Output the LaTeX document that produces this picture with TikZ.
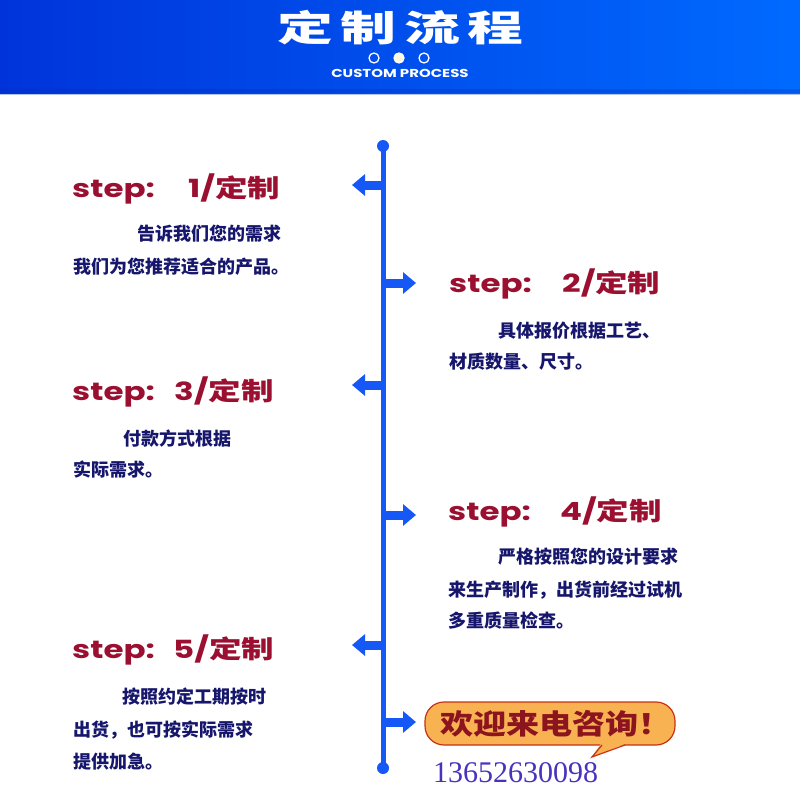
\documentclass[tikz,border=0pt]{standalone}
\usepackage{fontspec}
\newfontfamily\cjk{Noto Sans CJK SC}
\newfontfamily\pop{Poppins}
\newfontfamily\libserif{Liberation Serif}
\usetikzlibrary{arrows.meta}
\definecolor{hdrL}{RGB}{0,52,218}
\definecolor{hdrR}{RGB}{0,106,255}
\definecolor{tl}{RGB}{22,88,245}
\definecolor{crim}{RGB}{155,16,48}
\definecolor{navy}{RGB}{22,22,108}
\definecolor{bubfill}{RGB}{248,178,82}
\definecolor{bubline}{RGB}{200,50,20}
\definecolor{bubtext}{RGB}{140,20,30}
\definecolor{phone}{RGB}{72,50,190}
\definecolor{hdrline}{RGB}{175,195,240}
\definecolor{ringfill}{RGB}{255,250,222}
\tikzset{
  steplbl/.style={anchor=base west, inner sep=0pt, text=crim, font=\pop\bfseries\fontsize{25}{30}\selectfont},
  bodytxt/.style={anchor=west, inner sep=0pt, text=navy, font=\cjk\bfseries\fontsize{18}{20}\selectfont},
  titlechar/.style={inner sep=0pt, text=white, font=\cjk\bfseries\fontsize{36}{40}\selectfont},
  arr/.style={line width=9pt, draw=tl, -{Triangle[width=21pt,length=13pt]}},
  dotc/.style={circle, fill=tl, inner sep=0pt, minimum size=12pt},
  ring/.style={circle, draw=white, line width=1.3pt, inner sep=0pt, minimum size=10pt}
}
\newcommand{\sx}[1]{\scalebox{1.3}[1]{#1}}
\begin{document}
\begin{tikzpicture}[x=1pt,y=-1pt]
\useasboundingbox (0,0) rectangle (800,800);
\fill[white] (0,0) rectangle (800,800);
% header
\shade[left color=hdrL, right color=hdrR] (0,0) rectangle (800,93);
\fill[hdrL!80!black, opacity=0.25] (0,89) rectangle (800,93);
\draw[hdrline, line width=1.5pt] (0,94.5) -- (800,94.5);
\node[titlechar] (h1) at (305,28) {\scalebox{1.55}[1]{定}};
\node[titlechar] (h2) at (368,28) {\scalebox{1.55}[1]{制}};
\node[titlechar] (h3) at (432,28) {\scalebox{1.55}[1]{流}};
\node[titlechar] (h4) at (495,28) {\scalebox{1.55}[1]{程}};
\node[ring] (c1) at (374,58) {};
\node[ring, fill=ringfill] (c2) at (399,58) {};
\node[ring] (c3) at (424,58) {};
\node[inner sep=0pt, text=white, font=\pop\bfseries\fontsize{11.5}{13}\selectfont] (sub) at (400,73) {\scalebox{1.3}[1]{CUSTOM PROCESS}};
% timeline
\node[dotc] (tlTop) at (383,146) {};
\node[dotc] (tlBot) at (383,768) {};
\draw[tl, line width=5pt] (tlTop.center) -- (tlBot.center);
% arrows
\coordinate (p1) at (383,185); \coordinate (t1) at (352,185);
\coordinate (p2) at (383,283); \coordinate (t2) at (416,283);
\coordinate (p3) at (383,385); \coordinate (t3) at (352,385);
\coordinate (p4) at (383,515); \coordinate (t4) at (416,515);
\coordinate (p5) at (383,645); \coordinate (t5) at (352,645);
\coordinate (p6) at (383,722); \coordinate (t6) at (416,722);
\foreach \i in {1,...,6} {\draw[arr] (p\i) -- (t\i);}
% step 1
\node[steplbl] (s1a) at (72,197) {\sx{step:}};
\node[steplbl] (s1b) at (188,197) {\sx{1/{\cjk\bfseries 定制}}};
\node[bodytxt] (b1a) at (137,234) {告诉我们您的需求};
\node[bodytxt] (b1b) at (73,267) {我们为您推荐适合的产品。};
% step 2
\node[steplbl] (s2a) at (449,292) {\sx{step:}};
\node[steplbl] (s2b) at (562,292) {\sx{2/{\cjk\bfseries 定制}}};
\node[bodytxt] (b2a) at (498,331) {具体报价根据工艺、};
\node[bodytxt] (b2b) at (449,362) {材质数量、尺寸。};
% step 3
\node[steplbl] (s3a) at (72,400) {\sx{step:}};
\node[steplbl] (s3b) at (174,400) {\sx{3/{\cjk\bfseries 定制}}};
\node[bodytxt] (b3a) at (123,439) {付款方式根据};
\node[bodytxt] (b3b) at (73,470) {实际需求。};
% step 4
\node[steplbl] (s4a) at (448,520) {\sx{step:}};
\node[steplbl] (s4b) at (560,520) {\sx{4/{\cjk\bfseries 定制}}};
\node[bodytxt] (b4a) at (498,557) {严格按照您的设计要求};
\node[bodytxt] (b4b) at (448,590) {来生产制作，出货前经过试机};
\node[bodytxt] (b4c) at (448,621) {多重质量检查。};
% step 5
\node[steplbl] (s5a) at (72,658) {\sx{step:}};
\node[steplbl] (s5b) at (173,658) {\sx{5/{\cjk\bfseries 定制}}};
\node[bodytxt] (b5a) at (122,697) {按照约定工期按时};
\node[bodytxt] (b5b) at (73,730) {出货，也可按实际需求};
\node[bodytxt] (b5c) at (73,762) {提供加急。};
% bubble
\draw[fill=bubfill, draw=bubline, line width=1.2pt, rounded corners=19pt] (425,702) rectangle (675,745);
\fill[bubfill] (601,743.5) -- (592,757) -- (626,743.5) -- cycle;
\draw[bubline, line width=1.2pt, line join=miter] (602,745) -- (592,757) -- (625,745);
\node[anchor=west, inner sep=0pt, text=bubtext, font=\cjk\bfseries\fontsize{28}{32}\selectfont] (bub) at (440,724) {\scalebox{1.18}[1]{欢迎来电咨询！}};
\node[anchor=west, inner sep=0pt, text=phone, font=\libserif\fontsize{30}{34}\selectfont] (tel) at (433,773) {13652630098};
\end{tikzpicture}
\end{document}
